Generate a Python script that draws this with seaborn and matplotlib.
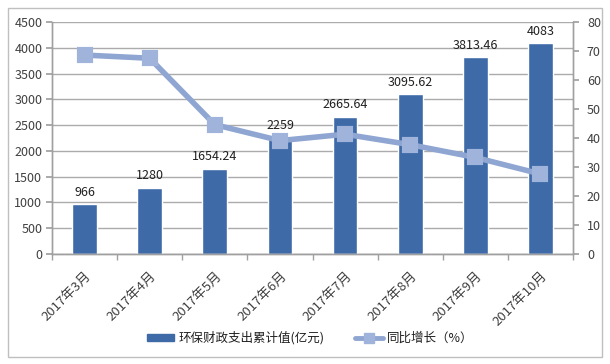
import matplotlib
matplotlib.use("Agg")
import matplotlib.pyplot as plt
import seaborn as sns
import pandas as pd
from matplotlib.patches import Rectangle
from matplotlib.lines import Line2D
from matplotlib.patches import Patch

categories = ["2017年3月", "2017年4月", "2017年5月", "2017年6月",
              "2017年7月", "2017年8月", "2017年9月", "2017年10月"]
spending = [966, 1280, 1654.24, 2259, 2665.64, 3095.62, 3813.46, 4083]
spending_labels = ["966", "1280", "1654.24", "2259", "2665.64", "3095.62", "3813.46", "4083"]
growth = [68.6, 67.5, 44.6, 39.1, 41.3, 37.7, 33.3, 27.6]
bar_name = "环保财政支出累计值(亿元)"
line_name = "同比增长（%）"

sns.set_theme(style="white")
plt.rcParams['font.family'] = ['Noto Sans CJK SC', 'DejaVu Sans']

bar_color = "#3E6AA8"
line_color = "#8FA6D2"
marker_color = "#9FB3DB"
text_color = "#404040"

df = pd.DataFrame({"cat": categories, "val": spending, "g": growth})

fig = plt.figure(figsize=(6.10, 3.64), dpi=100)
ax = fig.add_axes([52/610, 1-254/364, (573-52)/610, (254-22)/364])

sns.barplot(data=df, x="cat", y="val", ax=ax, color=bar_color, width=0.38,
            saturation=1, zorder=2)
ax.set_ylim(0, 4500)
ax.set_yticks(range(0, 4501, 500))
ax.yaxis.grid(True, color="#ABABAB", linewidth=1.0, zorder=0)
ax.set_axisbelow(True)
ax.bar_label(ax.containers[0], labels=spending_labels, padding=4,
             fontsize=9, color="#202020")

ax2 = ax.twinx()
sns.pointplot(data=df, x="cat", y="g", ax=ax2, color=line_color,
              markers="s", linestyles="-", linewidth=4, markersize=8)
for coll in ax2.lines:
    coll.set_markerfacecolor(marker_color)
    coll.set_markeredgecolor(marker_color)
ax2.set_ylim(0, 80)
ax2.set_yticks(range(0, 81, 10))
ax.set_xlim(-0.5, 7.5)
ax2.set_xlim(-0.5, 7.5)

for a in (ax, ax2):
    a.set_xlabel("")
    a.set_ylabel("")
    for s in a.spines.values():
        s.set_color("#A0A0A0")
        s.set_linewidth(1.0)
    a.spines["top"].set_visible(False)

ax.tick_params(axis="y", left=True, length=4, color="#A0A0A0",
               labelsize=9, labelcolor=text_color, pad=3)
ax2.tick_params(axis="y", right=True, length=4, color="#A0A0A0",
                labelsize=9, labelcolor=text_color, pad=6)

ax.set_xticks(range(len(categories)))
ax.set_xticklabels(categories, rotation=45, ha="right", rotation_mode="anchor",
                   fontsize=9.5, color=text_color)
ax.tick_params(axis="x", bottom=False, pad=5)
# tick marks between categories
ax.set_xticks([i + 0.5 for i in range(-1, len(categories))], minor=True)
ax.tick_params(axis="x", which="minor", bottom=True, length=4, color="#A0A0A0")

handles = [Patch(facecolor=bar_color, edgecolor=bar_color),
           Line2D([0], [0], color=line_color, linewidth=3.5, marker="s",
                  markersize=7, markerfacecolor=marker_color,
                  markeredgecolor=marker_color)]
fig.legend(handles, [bar_name, line_name], loc="center",
           bbox_to_anchor=(310/610, 1-338/364), ncol=2, frameon=False,
           fontsize=9, handlelength=2.2, handleheight=0.45, columnspacing=2.5,
           handletextpad=0.3, labelcolor="#202020")

fig.patches.append(Rectangle((8/610, 1-357/364), (602-8)/610, (357-8)/364,
                             transform=fig.transFigure, fill=False,
                             edgecolor="#BFBFBF", linewidth=1.0))

fig.savefig("out.png", dpi=100)
